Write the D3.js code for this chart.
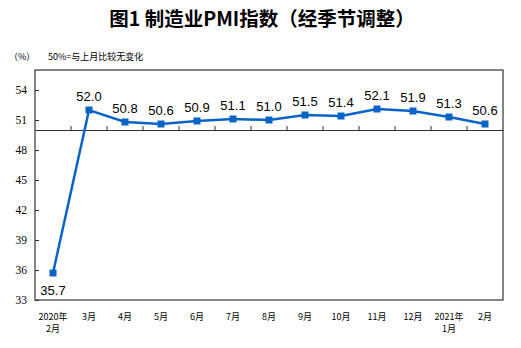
<!DOCTYPE html>
<html><head><meta charset="utf-8">
<script src="https://cdn.jsdelivr.net/npm/d3@7"></script>
<style>body{margin:0;background:#fff}svg{display:block}</style>
</head><body>
<script>
const categories = ["2020年|2月","3月","4月","5月","6月","7月","8月","9月","10月","11月","12月","2021年|1月","2月"];
const values = [35.7,52.0,50.8,50.6,50.9,51.1,51.0,51.5,51.4,52.1,51.9,51.3,50.6];
const yTicks = [33,36,39,42,45,48,51,54];
const title = "图1 制造业PMI指数（经季节调整）";

const W=521,H=348;
const m={l:35,r:18,t:70,b:48};
const svg=d3.select("body").append("svg").attr("width",W).attr("height",H);
const x=d3.scaleBand().domain(categories).range([m.l,W-m.r]);
const y=d3.scaleLinear().domain([33,56]).range([H-m.b,m.t]);
const cx=d=>x(d)+x.bandwidth()/2;

svg.append("text").attr("x",262).attr("y",26).attr("text-anchor","middle")
 .attr("font-family","Noto Sans CJK SC").attr("font-weight","bold").attr("font-size",19.5).attr("fill","#000").text(title);
svg.append("text").attr("x",9).attr("y",60).attr("font-family","Noto Sans CJK SC").attr("font-size",9).text("（%）");
svg.append("text").attr("x",48).attr("y",60).attr("font-family","Noto Sans CJK SC").attr("font-size",9).text("50%=与上月比较无变化");

// frame
svg.append("rect").attr("x",m.l).attr("y",m.t).attr("width",W-m.l-m.r).attr("height",H-m.t-m.b)
 .attr("fill","none").attr("stroke","#333").attr("stroke-width",1.2);

// y axis
const ya=svg.append("g").attr("transform",`translate(${m.l},0)`)
 .call(d3.axisRight(y).tickValues(yTicks).tickSize(4).tickFormat(d3.format("d")));
ya.select(".domain").remove();
ya.selectAll("line").attr("stroke","#333");
ya.selectAll("text").attr("x",-8).attr("text-anchor","end").attr("font-family","Liberation Serif").attr("font-size",11.5).attr("fill","#000");

// 50 baseline with ticks
const xa=svg.append("g").attr("transform",`translate(0,${y(50)})`)
 .call(d3.axisTop(x).tickSize(0).tickFormat(""));
xa.select(".domain").attr("stroke","#333").attr("stroke-width",1.2);
xa.selectAll(".tick").remove();
svg.append("g").selectAll("line").data(categories.slice(1)).join("line")
 .attr("x1",d=>x(d)).attr("x2",d=>x(d)).attr("y1",y(50)).attr("y2",y(50)-4).attr("stroke","#333");

// x labels
const xl=svg.append("g").selectAll("text").data(categories).join("text")
 .attr("x",d=>cx(d)).attr("y",H-m.b+20).attr("text-anchor","middle")
 .attr("font-family","Noto Sans CJK SC").attr("font-size",9).attr("fill","#000");
xl.each(function(d){const p=d.split("|");const t=d3.select(this);
 p.forEach((s,i)=>t.append("tspan").attr("x",cx(d)).attr("dy",i?12:0).text(s));});

// line
const color="#0a64c8";
svg.append("path").datum(values).attr("fill","none").attr("stroke",color).attr("stroke-width",2.5)
 .attr("d",d3.line().x((d,i)=>cx(categories[i])).y(d=>y(d)));
svg.append("g").selectAll("rect").data(values).join("rect")
 .attr("x",(d,i)=>cx(categories[i])-3.5).attr("y",d=>y(d)-3.5).attr("width",7).attr("height",7).attr("fill",color);
svg.append("g").selectAll("text").data(values).join("text")
 .attr("x",(d,i)=>cx(categories[i])).attr("y",(d,i)=>i===0?y(d)+22:y(d)-9)
 .attr("text-anchor","middle").attr("font-family","Liberation Sans").attr("font-size",13).attr("fill","#000")
 .text(d=>d.toFixed(1));
</script>
</body></html>
